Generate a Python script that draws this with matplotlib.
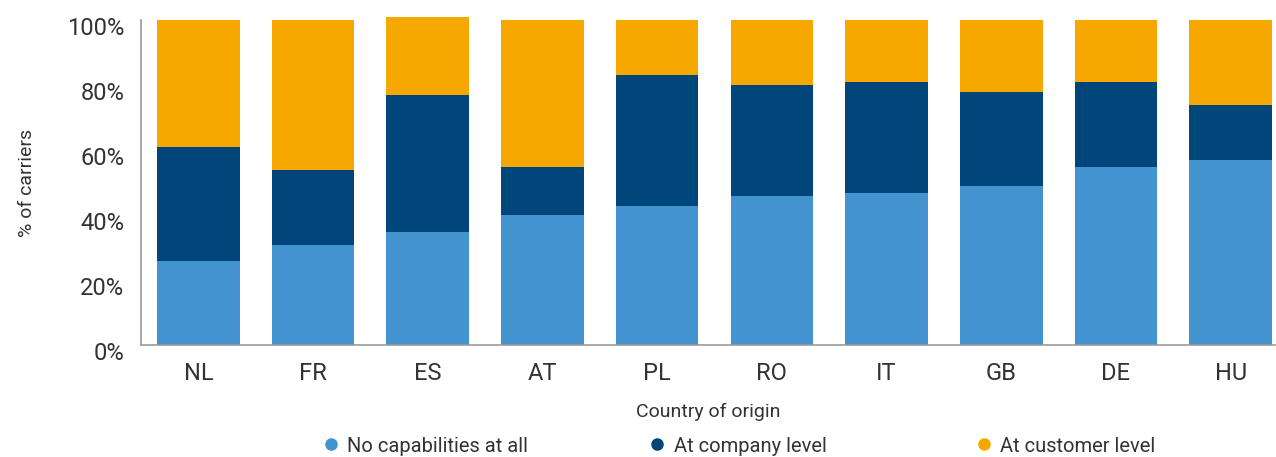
import matplotlib.pyplot as plt
from matplotlib.lines import Line2D
from matplotlib.transforms import ScaledTranslation

plt.rcParams['font.family'] = ['Roboto', 'DejaVu Sans']

# Share of carriers per country of origin (%)
countries = ["NL", "FR", "ES", "AT", "PL", "RO", "IT", "GB", "DE", "HU"]
no_capabilities = [26, 31, 35, 40, 43, 46, 47, 49, 55, 57]
company_level = [35, 23, 42, 15, 40, 34, 34, 29, 26, 17]
customer_level = [39, 46, 24, 45, 17, 20, 19, 22, 19, 26]

series_names = ["No capabilities at all", "At company level", "At customer level"]
colors = ["#4293cf", "#00467a", "#f7a800"]
text_color = "#333333"

fig = plt.figure(figsize=(12.76, 4.57), dpi=100)
ax = fig.add_axes([0.1105, 0.244, 0.889, 0.712])

x = range(len(countries))
bottom2 = [a + b for a, b in zip(no_capabilities, company_level)]
ax.bar(x, no_capabilities, width=0.72, color=colors[0], clip_on=False, zorder=2)
ax.bar(x, company_level, width=0.72, bottom=no_capabilities, color=colors[1], clip_on=False, zorder=2)
ax.bar(x, customer_level, width=0.72, bottom=bottom2, color=colors[2], clip_on=False, zorder=2)

ax.set_xlim(-0.5, 9.39)
ax.set_ylim(0, 100)
ax.set_yticks([0, 20, 40, 60, 80, 100])
ax.set_yticklabels([f"{v}%" for v in [0, 20, 40, 60, 80, 100]])
ax.set_xticks(list(x))
ax.set_xticklabels(countries)
ax.tick_params(axis='both', length=0, labelsize=17, colors=text_color)
ax.tick_params(axis='y', pad=12)
ax.tick_params(axis='x', pad=12)

# nudge the percentage labels slightly below their gridline position
shift = ScaledTranslation(0, -6 / 100, fig.dpi_scale_trans)
for lbl in ax.get_yticklabels():
    lbl.set_transform(lbl.get_transform() + shift)

for side in ['top', 'right']:
    ax.spines[side].set_visible(False)
ax.spines['left'].set_color('#999999')
ax.spines['bottom'].set_color('#999999')
ax.spines['left'].set_linewidth(1.2)
ax.spines['bottom'].set_linewidth(1.2)

ax.set_ylabel("% of carriers", fontsize=14, color=text_color, labelpad=22)
ax.set_xlabel("Country of origin", fontsize=14, color=text_color, labelpad=13)

# legend entries laid out in fixed-width columns
legend_x = [0.245, 0.501, 0.757]
for name, col, lx in zip(series_names, colors, legend_x):
    h = Line2D([], [], marker='o', linestyle='none', markersize=8,
               markerfacecolor=col, markeredgecolor=col)
    leg = fig.legend(handles=[h], labels=[name], loc='center left',
                     bbox_to_anchor=(lx, 0.024), frameon=False, fontsize=14.5,
                     handletextpad=0.3, handlelength=1.0, borderaxespad=0)
    for t in leg.get_texts():
        t.set_color(text_color)

fig.savefig("out.png", dpi=100)
